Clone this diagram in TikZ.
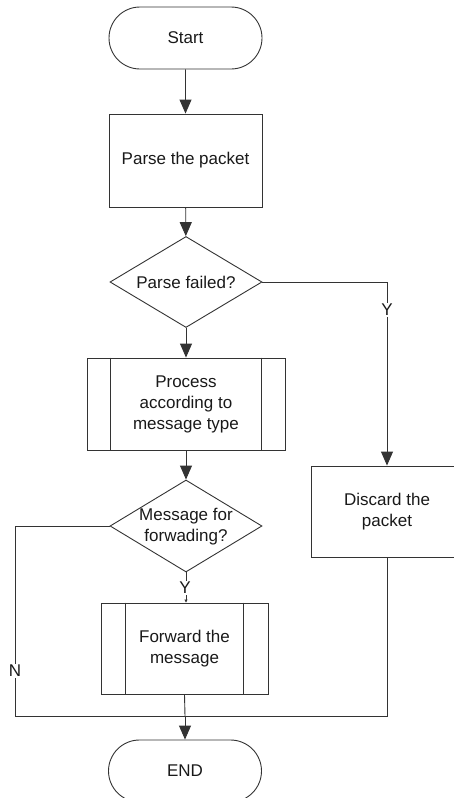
\documentclass[tikz,border=0pt]{standalone}
\usepackage{fontspec}
\setmainfont{Liberation Sans}
\usetikzlibrary{shapes.geometric,shapes.misc,arrows.meta}
\begin{document}
\begin{tikzpicture}[x=1pt,y=-1pt,
  every node/.style={font=\fontsize{17}{21}\selectfont, text=black!90},
  conn/.style={draw=black!80, line width=0.9pt},
  arr/.style={conn, -{Triangle[length=14pt,width=12pt]}},
  smallarr/.style={conn, -{Triangle[length=3pt,width=3pt]}},
  term/.style={rounded rectangle, draw=black!80, line width=0.9pt, minimum width=153pt, minimum height=62pt, inner sep=0pt},
  boxn/.style={rectangle, draw=black!80, line width=0.9pt, align=center, inner sep=0pt},
  dec/.style={diamond, draw=black!80, line width=0.9pt, inner sep=0pt, minimum width=152pt, minimum height=92pt},
  txt/.style={align=center, inner sep=0pt},
  lbl/.style={fill=white, inner sep=1pt}]
\useasboundingbox (0,0) rectangle (454,798);
\clip (0,0) rectangle (454,798);

\node[term] (start) at (185.5,38) {Start};
\node[boxn, minimum width=153pt, minimum height=93pt] (parse) at (185.5,160.5) {Parse the packet};
\node[dec, minimum height=91pt] (d1) at (186,282) {};
\node[txt] (d1t) at (186,282) {Parse failed?};
\node[boxn, minimum width=198pt, minimum height=92pt] (proc) at (186,404) {Process\\according to\\message type};
\draw[conn] ([xshift=24pt]proc.north west) -- ([xshift=24pt]proc.south west);
\draw[conn] ([xshift=-24pt]proc.north east) -- ([xshift=-24pt]proc.south east);
\node[dec] (d2) at (186,526) {};
\node[txt] (d2t) at (186,527) {Message for\\forwading?};
\node[boxn, minimum width=167pt, minimum height=91pt] (fwd) at (184.5,648.5) {Forward the\\message};
\draw[conn] ([xshift=25pt]fwd.north west) -- ([xshift=25pt]fwd.south west);
\draw[conn] ([xshift=-25pt]fwd.north east) -- ([xshift=-25pt]fwd.south east);
\node[boxn, minimum width=152pt, minimum height=91pt] (disc) at (387,511.5) {Discard the\\packet};
\node[term] (end) at (185,771) {END};

\coordinate (nl) at (15,716);
\coordinate (jn) at (185,716);

\draw[arr] (start) -- (parse);
\draw[arr] (parse) -- (d1);
\draw[arr] (d1) -- (proc);
\draw[arr] (proc) -- (d2);
\draw[arr] (d1.east) -| (disc.north);
\node[lbl] (y1) at (387,310) {Y};
\draw[smallarr] (d2.south) -- (d2.south |- fwd.north);
\node[lbl] (y2) at (185,588) {Y};
\draw[conn] (d2.west) -| (nl) -- (jn);
\node[lbl] (n1) at (15,671) {N};
\draw[conn] (disc.south) |- (jn);
\draw[conn] (fwd.south) -- (jn);
\draw[arr] (jn) -- (end.north);
\end{tikzpicture}
\end{document}
